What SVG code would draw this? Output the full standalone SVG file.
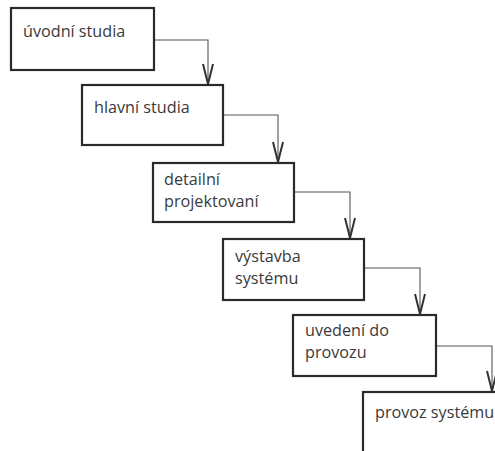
<svg xmlns="http://www.w3.org/2000/svg" width="495" height="451" viewBox="0 0 495 451">
  <style>
    .box { fill: #ffffff; stroke: #2a2a2a; stroke-width: 2.2; }
    .label { font-family: "Open Sans", "Liberation Sans", sans-serif; font-size: 16.2px; fill: #3a3a3a; }
    .conn { fill: none; stroke: #555555; stroke-width: 1.1; }
    .head { fill: none; stroke: #333333; stroke-width: 2; stroke-linejoin: miter; }
  </style>
  <rect width="495" height="451" fill="#ffffff"/>

  <g id="connectors">
    <path class="conn" d="M154 40 H208 V84"/>
    <path class="head" d="M203 64 L208 84 L213 64"/>
    <path class="conn" d="M223 115 H278 V162"/>
    <path class="head" d="M273 142 L278 162 L283 142"/>
    <path class="conn" d="M294 192 H350 V238"/>
    <path class="head" d="M345 218 L350 238 L355 218"/>
    <path class="conn" d="M364 268 H420 V314"/>
    <path class="head" d="M415 294 L420 314 L425 294"/>
    <path class="conn" d="M436 346 H492 V391"/>
    <path class="head" d="M487 371 L492 391 L497 371"/>
  </g>

  <g id="node-uvodni-studia">
    <rect class="box" x="11" y="8" width="143" height="62"/>
    <text class="label" x="23" y="37">úvodní studia</text>
  </g>

  <g id="node-hlavni-studia">
    <rect class="box" x="82" y="85" width="141" height="60"/>
    <text class="label" x="94" y="113">hlavní studia</text>
  </g>

  <g id="node-detailni-projektovani">
    <rect class="box" x="153" y="163" width="141" height="59"/>
    <text class="label" x="164" y="185">detailní</text>
    <text class="label" x="164" y="207">projektovaní</text>
  </g>

  <g id="node-vystavba-systemu">
    <rect class="box" x="223" y="239" width="141" height="61"/>
    <text class="label" x="235" y="262">výstavba</text>
    <text class="label" x="235" y="284">systému</text>
  </g>

  <g id="node-uvedeni-do-provozu">
    <rect class="box" x="293" y="315" width="143" height="61"/>
    <text class="label" x="305" y="336">uvedení do</text>
    <text class="label" x="305" y="358">provozu</text>
  </g>

  <g id="node-provoz-systemu">
    <rect class="box" x="363" y="392" width="150" height="70"/>
    <text class="label" x="375" y="418">provoz systému</text>
  </g>
</svg>
